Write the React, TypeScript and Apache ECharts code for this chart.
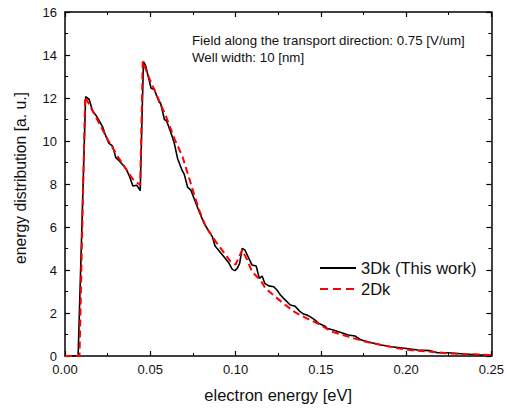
import React, { useEffect, useRef } from "react";
import * as echarts from "echarts";

const xTicks = [0, 0.05, 0.1, 0.15, 0.2, 0.25];
const yTicks = [0, 2, 4, 6, 8, 10, 12, 14, 16];

const energy3D = [0, 0.0077, 0.0121, 0.0142, 0.0161, 0.0181, 0.02, 0.022, 0.0233, 0.0247, 0.0258, 0.0278, 0.0286, 0.0297, 0.0317, 0.034, 0.036, 0.0379, 0.0398, 0.0421, 0.0441, 0.046, 0.0472, 0.0486, 0.0505, 0.0524, 0.0538, 0.0554, 0.056, 0.0583, 0.0596, 0.0622, 0.0641, 0.066, 0.0686, 0.0699, 0.0719, 0.0738, 0.0758, 0.0787, 0.0816, 0.0845, 0.0864, 0.088, 0.0903, 0.0932, 0.0962, 0.0981, 0.0997, 0.101, 0.1024, 0.1039, 0.1055, 0.1078, 0.1097, 0.1121, 0.1132, 0.114, 0.1156, 0.1171, 0.1195, 0.1224, 0.1243, 0.1263, 0.1292, 0.1321, 0.135, 0.1379, 0.1399, 0.1418, 0.1437, 0.1467, 0.1486, 0.1525, 0.1535, 0.1573, 0.1622, 0.1661, 0.17, 0.1738, 0.1797, 0.1855, 0.1913, 0.1991, 0.2069, 0.2137, 0.2185, 0.2244, 0.2341, 0.2438, 0.25];
const dist3D = [0, 0, 12.06, 11.93, 11.41, 11.2, 10.95, 10.67, 10.36, 10.08, 9.89, 9.77, 9.58, 9.24, 9.08, 8.88, 8.68, 8.34, 7.91, 7.94, 7.69, 13.69, 13.53, 13.07, 12.45, 12.4, 12.09, 11.78, 11.78, 11.0, 10.93, 10.36, 9.89, 9.19, 8.65, 8.46, 7.85, 7.72, 7.3, 6.71, 6.17, 5.78, 5.55, 5.12, 4.9, 4.62, 4.31, 4.03, 3.97, 4.08, 4.31, 5.0, 4.93, 4.54, 4.23, 4.19, 3.84, 3.61, 3.72, 3.38, 3.26, 3.22, 3.07, 2.84, 2.6, 2.37, 2.31, 2.06, 1.95, 1.91, 1.83, 1.67, 1.52, 1.38, 1.29, 1.21, 1.08, 0.98, 0.93, 0.74, 0.62, 0.51, 0.43, 0.36, 0.28, 0.25, 0.15, 0.15, 0.09, 0.05, 0.05];

const energy2D = [0, 0.0085, 0.0118, 0.0165, 0.0252, 0.031, 0.0398, 0.0441, 0.0456, 0.0495, 0.0534, 0.0593, 0.0641, 0.0689, 0.0719, 0.0758, 0.0787, 0.0826, 0.0884, 0.0942, 0.0971, 0.1, 0.1039, 0.1068, 0.1097, 0.1146, 0.1175, 0.1233, 0.1292, 0.135, 0.1418, 0.1486, 0.1564, 0.1661, 0.1758, 0.1855, 0.1952, 0.205, 0.2146, 0.2244, 0.234, 0.25];
const dist2D = [0, 0, 12.05, 11.36, 10.05, 9.27, 8.22, 7.95, 13.7, 12.9, 12.2, 11.13, 10.12, 9.27, 8.5, 7.49, 6.79, 6.01, 5.32, 4.7, 4.39, 4.25, 4.93, 4.47, 3.92, 3.53, 3.15, 2.76, 2.37, 2.03, 1.75, 1.5, 1.13, 0.9, 0.67, 0.51, 0.36, 0.25, 0.2, 0.12, 0.09, 0.05];

const seriesNames = ["3Dk (This work)", "2Dk"];
const seriesColors = ["#000000", "#ff0000"];
const annotationLines = ["Field along the transport direction: 0.75 [V/um]", "Well width: 10 [nm]"];
const xAxisName = "electron energy [eV]";
const yAxisName = "energy distribution [a. u.]";

const FONT = "Liberation Sans, Arial, sans-serif";
const DASH = [7, 4];

export default function App() {
  const ref = useRef<HTMLDivElement>(null);
  useEffect(() => {
    if (!ref.current) return;
    const chart = echarts.init(ref.current, undefined, { renderer: "svg" });
    const axisLine = { show: true, onZero: false, lineStyle: { color: "#000", width: 1.5 } };
    const axisTick = { show: true, inside: true, length: 5, lineStyle: { color: "#000", width: 1.2 } };
    const minorTick = { show: true, splitNumber: 2, length: 3, lineStyle: { color: "#000", width: 1 } };
    const xMin = xTicks[0];
    const xMax = xTicks[xTicks.length - 1];
    const xInt = xTicks[1] - xTicks[0];
    const yMin = yTicks[0];
    const yMax = yTicks[yTicks.length - 1];
    const yInt = yTicks[1] - yTicks[0];

    const legendGraphics: any[] = [];
    seriesNames.forEach((name, i) => {
      const y = 268 + i * 21;
      legendGraphics.push({
        type: "line",
        shape: { x1: 320, y1: y, x2: 356, y2: y },
        style: { stroke: seriesColors[i], lineWidth: i === 0 ? 1.8 : 2, lineDash: i === 0 ? null : [8, 5] },
      });
      legendGraphics.push({
        type: "text",
        x: 361,
        y: y,
        style: { text: name, fontSize: 16.5, fill: "#111", fontFamily: FONT, verticalAlign: "middle", align: "left" },
      });
    });

    chart.setOption({
      animation: false,
      backgroundColor: "#fff",
      textStyle: { fontFamily: FONT },
      grid: { left: 65, right: 13, top: 12, bottom: 53, containLabel: false },
      xAxis: [
        {
          type: "value",
          position: "bottom",
          min: xMin,
          max: xMax,
          interval: xInt,
          axisLine,
          axisTick,
          minorTick,
          splitLine: { show: false },
          axisLabel: { show: true, margin: 7, fontSize: 13, color: "#111", fontFamily: FONT, formatter: (v: number) => v.toFixed(2) },
          name: xAxisName,
          nameLocation: "middle",
          nameGap: 30,
          nameTextStyle: { fontSize: 16.5, color: "#111", fontFamily: FONT },
        },
        {
          type: "value",
          position: "top",
          min: xMin,
          max: xMax,
          interval: xInt,
          axisLine,
          axisTick,
          minorTick,
          splitLine: { show: false },
          axisLabel: { show: false },
        },
      ],
      yAxis: [
        {
          type: "value",
          position: "left",
          min: yMin,
          max: yMax,
          interval: yInt,
          axisLine,
          axisTick,
          minorTick,
          splitLine: { show: false },
          axisLabel: { show: true, margin: 8, fontSize: 13, color: "#111", fontFamily: FONT },
        },
        {
          type: "value",
          position: "right",
          min: yMin,
          max: yMax,
          interval: yInt,
          axisLine,
          axisTick,
          minorTick,
          splitLine: { show: false },
          axisLabel: { show: false },
        },
      ],
      graphic: [
        {
          type: "text",
          x: 20,
          y: 178,
          rotation: Math.PI / 2,
          style: { text: yAxisName, fontSize: 15.7, fill: "#111", fontFamily: FONT, align: "center", verticalAlign: "middle" },
        },
        ...annotationLines.map((t, i) => ({
          type: "text",
          x: 192,
          y: 40 + i * 17,
          style: { text: t, fontSize: 13.3, fill: "#111", fontFamily: FONT, verticalAlign: "middle" },
        })),
        ...legendGraphics,
      ],
      series: [
        {
          name: seriesNames[0],
          type: "line",
          showSymbol: false,
          symbol: "none",
          data: energy3D.map((x, i) => [x, dist3D[i]]),
          lineStyle: { color: seriesColors[0], width: 1.6 },
          itemStyle: { color: seriesColors[0] },
          z: 3,
        },
        {
          name: seriesNames[1],
          type: "line",
          showSymbol: false,
          symbol: "none",
          data: energy2D.map((x, i) => [x, dist2D[i]]),
          lineStyle: { color: seriesColors[1], width: 2, type: DASH },
          itemStyle: { color: seriesColors[1] },
          z: 4,
        },
      ],
    });
    return () => chart.dispose();
  }, []);
  return <div ref={ref} style={{ width: 507, height: 409, position: "absolute", left: 0, top: 0 }} />;
}
